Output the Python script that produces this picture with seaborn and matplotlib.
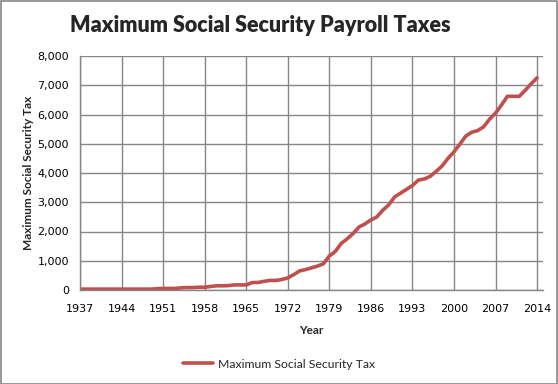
import numpy as np
import pandas as pd
import matplotlib
matplotlib.use("Agg")
import matplotlib.pyplot as plt
import seaborn as sns
from matplotlib.ticker import FuncFormatter, MultipleLocator


# Maximum employee OASDI tax per year (USD)
years = list(range(1937, 2015))
max_tax = [
    30, 30, 30, 30, 30, 30, 30, 30, 30, 30, 30, 30, 30,   # 1937-1949
    45, 54, 54, 54, 72, 84, 84, 94.5, 94.5, 120,          # 1950-1959
    144, 144, 150, 174, 174, 174, 254.1, 257.4, 296.4,    # 1960-1968
    327.6, 327.6, 358.8, 414, 523.8, 653.4, 697.95,       # 1969-1975
    757.35, 816.75, 893.85, 1163.32, 1315.72, 1588.95,    # 1976-1981
    1749.6, 1927.8, 2154.6, 2257.2, 2394, 2496.6, 2727,   # 1982-1988
    2908.8, 3180.6, 3310.8, 3441, 3571.2, 3757.2, 3794.4, # 1989-1995
    3887.4, 4054.8, 4240.8, 4501.2, 4724.4, 4984.8,       # 1996-2001
    5263.8, 5394, 5449.8, 5580, 5840.4, 6045, 6324,       # 2002-2008
    6621.6, 6621.6, 6621.6, 6826.2, 7049.4, 7254,         # 2009-2014
]
tick_years = list(range(1937, 2015, 7))
series_name = "Maximum Social Security Tax"

df = pd.DataFrame({"Year": years, "Tax": max_tax})
df["Series"] = series_name

sns.set_theme(style="white")
plt.rcParams["font.family"] = ["Lato", "DejaVu Sans"]

fig = plt.figure(figsize=(5.58, 3.84), dpi=100)
fig.subplots_adjust(left=80 / 558, right=543 / 558, top=1 - 56 / 384, bottom=1 - 290 / 384)
ax = fig.add_subplot(111)

grid_color = "#868686"
sns.lineplot(data=df, x="Year", y="Tax", hue="Series", palette=["#C0504D"],
             linewidth=2.6, ax=ax, legend=True)

ax.set_xlim(1937, 2015)
ax.set_ylim(0, 8000)
ax.set_xticks(tick_years)
ax.yaxis.set_major_locator(MultipleLocator(1000))
ax.yaxis.set_major_formatter(FuncFormatter(lambda v, p: f"{int(v):,}"))
ax.grid(True, color=grid_color, linewidth=1)
ax.set_axisbelow(True)

for side in ["top", "right"]:
    ax.spines[side].set_visible(False)
for side in ["left", "bottom"]:
    ax.spines[side].set_color(grid_color)
    ax.spines[side].set_linewidth(1)

ax.tick_params(axis="both", length=0, labelsize=8, colors="black")
ax.tick_params(axis="x", pad=10)
ax.tick_params(axis="y", pad=8)
for lab in ax.get_xticklabels() + ax.get_yticklabels():
    lab.set_fontfamily("DejaVu Sans")

ax.set_xlabel("Year", fontsize=8.5, fontweight="bold", labelpad=8)
ax.set_ylabel(series_name, fontsize=8.5, fontweight="bold", labelpad=2)

fig.text(0.467, 1 - 25 / 384, "Maximum Social Security Payroll Taxes",
         ha="center", va="center", fontsize=15.5, fontweight="heavy")

handles, labels = ax.get_legend_handles_labels()
ax.legend(handles, labels, loc="center", bbox_to_anchor=(0.5, 1 - 364 / 384),
          bbox_transform=fig.transFigure, frameon=False, fontsize=8.8,
          handlelength=2.5, handletextpad=0.4)

fig.patches.append(plt.Rectangle((0.001, 0.001), 0.997, 0.997, transform=fig.transFigure,
                                 fill=False, edgecolor=grid_color, linewidth=1.2))

fig.savefig("out.png", dpi=100)
